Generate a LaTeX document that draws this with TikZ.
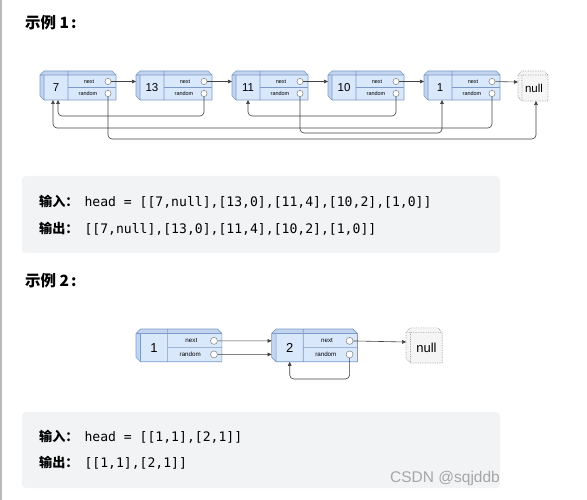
\documentclass[tikz,border=0pt]{standalone}
\usepackage{fontspec}
\setmainfont{Liberation Sans}
\setmonofont{DejaVu Sans Mono}
\newfontfamily\cjk{Noto Sans CJK SC}
\usetikzlibrary{arrows.meta}
\definecolor{cfront}{HTML}{DAE8FC}
\definecolor{cside}{HTML}{C3D5EE}
\definecolor{cedge}{HTML}{7A9BCB}
\definecolor{cnull}{HTML}{F5F5F5}
\definecolor{ccode}{HTML}{F2F3F5}
\definecolor{cmark}{HTML}{A6A6A6}
\begin{document}
\begin{tikzpicture}[x=1pt,y=-1pt,
  boxline/.style={draw=cedge,line width=0.7pt,line join=round},
  nullline/.style={draw=gray!75,densely dotted,line width=0.7pt},
  val/.style={font=\fontsize{11.5}{11.5}\selectfont,inner sep=0pt},
  fld/.style={font=\fontsize{5.5}{5.5}\selectfont,inner sep=0pt},
  port/.style={circle,draw=gray,fill=white,line width=0.5pt,minimum size=6.2pt,inner sep=0pt},
  link/.style={draw=black!75,line width=0.6pt,rounded corners=4pt,-{Triangle[length=4pt,width=3.6pt]}},
  title/.style={anchor=west,inner sep=0pt,font=\cjk\bfseries\fontsize{15.5}{15.5}\selectfont},
  code/.style={anchor=west,inner sep=0pt,font=\fontsize{13.1}{15}\ttfamily}]
\useasboundingbox (0,0) rectangle (587,500);
\fill[gray!55] (0,0) rectangle (2,500);

\node[title] (ex1) at (25,23) {示例 1\hspace{2pt}:};

\begin{scope}[shift={(40,71)}]
\foreach \v [count=\i] in {7,13,11,10,1} {
  \pgfmathsetmacro\x{96*(\i-1)}
  \fill[cfront] (\x,4) -- (\x+4,0) -- (\x+72,0) -- (\x+76,4) -- (\x+76,29) -- (\x+4,29) -- (\x,25) -- cycle;
  \fill[cside] (\x,4) -- (\x+4,0) -- (\x+72,0) -- (\x+76,4) -- cycle;
  \fill[cside] (\x,4) -- (\x+4,4) -- (\x+4,29) -- (\x,25) -- cycle;
  \draw[boxline] (\x,4) -- (\x+4,0) -- (\x+72,0) -- (\x+76,4) -- (\x+76,29) -- (\x+4,29) -- (\x,25) -- cycle
    (\x,4) -- (\x+76,4) (\x+4,4) -- (\x+4,29) (\x+28,0) -- (\x+28,29) (\x+28,16.5) -- (\x+76,16.5);
  \node[val] (v\i) at (\x+16,16.5) {\v};
  \node[fld] at (\x+49,10.5) {next};
  \node[fld] at (\x+48,22.5) {random};
  \node[port] (nx\i) at (\x+68,10.5) {};
  \node[port] (rd\i) at (\x+68,22.5) {};
  \coordinate (in\i) at (\x,10.5);
}
\fill[cnull] (478,4) -- (482,0) -- (504,0) -- (508,4) -- (508,30) -- (482,30) -- (478,26) -- cycle;
\draw[nullline] (478,4) -- (482,0) -- (504,0) -- (508,4) -- (508,30) -- (482,30) -- (478,26) -- cycle
  (478,4) -- (508,4) (482,4) -- (482,30);
\node[val] (nl) at (494,17.5) {null};
\coordinate (innl) at (478,11);
\coordinate (btnl) at (496,30);
\coordinate (bt1a) at (13,29);
\coordinate (bt1b) at (18,29);
\coordinate (bt3) at (208,29);
\coordinate (bt5) at (402,29);

\foreach \i/\j in {1/2,2/3,3/4,4/5}
  \draw[link] (nx\i) -- (in\j);
\draw[link] (nx5) -- (innl);
\draw[link] (rd2) -- ++(0,22.5) -| (bt1b);
\draw[link] (rd4) -- ++(0,22.5) -| (bt3);
\draw[link] (rd5) -- ++(0,34.5) -| (bt1a);
\draw[link] (rd3) -- ++(0,39.5) -| (bt5);
\draw[link] (rd1) -- ++(0,45.5) -| (btnl);
\end{scope}

\fill[ccode,rounded corners=4pt] (22,176) rectangle (500,253);
\node[code] (inA) at (39,202) {{\cjk\bfseries 输入：}\hspace{6pt}head = [[7,null],[13,0],[11,4],[10,2],[1,0]]};
\node[code] (outA) at (39,229) {{\cjk\bfseries 输出：}\hspace{6pt}[[7,null],[13,0],[11,4],[10,2],[1,0]]};

\node[title] (ex2) at (25,281) {示例 2\hspace{2pt}:};

\begin{scope}[shift={(136,329)},scale=1.13,transform shape]
\foreach \v [count=\i] in {1,2} {
  \pgfmathsetmacro\x{120*(\i-1)}
  \fill[cfront] (\x,4) -- (\x+4,0) -- (\x+72,0) -- (\x+76,4) -- (\x+76,29) -- (\x+4,29) -- (\x,25) -- cycle;
  \fill[cside] (\x,4) -- (\x+4,0) -- (\x+72,0) -- (\x+76,4) -- cycle;
  \fill[cside] (\x,4) -- (\x+4,4) -- (\x+4,29) -- (\x,25) -- cycle;
  \draw[boxline] (\x,4) -- (\x+4,0) -- (\x+72,0) -- (\x+76,4) -- (\x+76,29) -- (\x+4,29) -- (\x,25) -- cycle
    (\x,4) -- (\x+76,4) (\x+4,4) -- (\x+4,29) (\x+28,0) -- (\x+28,29) (\x+28,16.5) -- (\x+76,16.5);
  \node[val] (bv\i) at (\x+16,16.5) {\v};
  \node[fld] at (\x+49,10.5) {next};
  \node[fld] at (\x+48,22.5) {random};
  \node[port] (bnx\i) at (\x+69,10.5) {};
  \node[port] (brd\i) at (\x+69,22.5) {};
  \coordinate (bin\i) at (\x,10.5);
  \coordinate (bir\i) at (\x,22.5);
}
\fill[cnull] (239,3) -- (243,-1) -- (267,-1) -- (271,3) -- (271,30) -- (243,30) -- (239,26) -- cycle;
\draw[nullline] (239,3) -- (243,-1) -- (267,-1) -- (271,3) -- (271,30) -- (243,30) -- (239,26) -- cycle
  (239,3) -- (271,3) (243,3) -- (243,30);
\node[val] (bnl) at (257,16.5) {null};
\coordinate (binnl) at (239,11.5);
\coordinate (bbt2) at (136,29);

\draw[link] (bnx1) -- (bin2);
\draw[link] (brd1) -- (bir2);
\draw[link] (bnx2) -- (binnl);
\draw[link] (brd2) -- ++(0,21.7) -| (bbt2);
\end{scope}

\fill[ccode,rounded corners=4pt] (22,412) rectangle (500,488);
\node[code] (inB) at (39,437) {{\cjk\bfseries 输入：}\hspace{6pt}head = [[1,1],[2,1]]};
\node[code] (outB) at (39,463) {{\cjk\bfseries 输出：}\hspace{6pt}[[1,1],[2,1]]};

\node[anchor=west,inner sep=0pt,text=cmark,font=\fontsize{15.5}{15.5}\selectfont] (wm) at (390,478) {CSDN @sqjddb};
\end{tikzpicture}
\end{document}
